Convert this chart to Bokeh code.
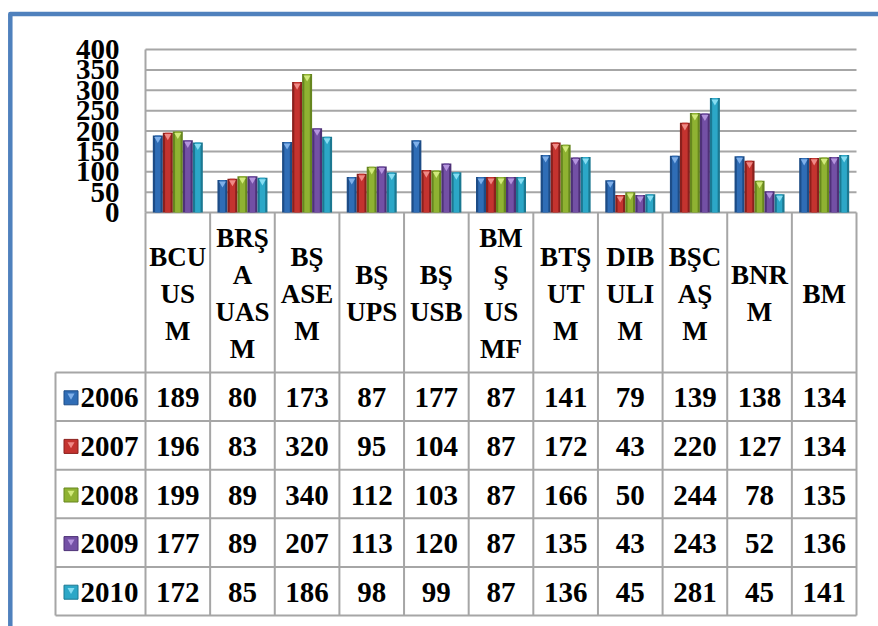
from bokeh.plotting import figure
from bokeh.models import Range1d, LinearAxis, FixedTicker, ColumnDataSource
from bokeh.core.properties import value
from bokeh.embed import file_html
from bokeh.resources import INLINE

# ---------------- data ----------------
categories = ["BCUUSM", "BRŞAUASM", "BŞASEM", "BŞUPS", "BŞUSB", "BMŞUSMF",
              "BTŞUTM", "DIBULIM", "BŞCAŞM", "BNRM", "BM"]
category_lines = [["BCU", "US", "M"], ["BRŞ", "A", "UAS", "M"], ["BŞ", "ASE", "M"],
                  ["BŞ", "UPS"], ["BŞ", "USB"], ["BM", "Ş", "US", "MF"],
                  ["BTŞ", "UT", "M"], ["DIB", "ULI", "M"], ["BŞC", "AŞ", "M"],
                  ["BNR", "M"], ["BM"]]
years = ["2006", "2007", "2008", "2009", "2010"]
v2006 = [189, 80, 173, 87, 177, 87, 141, 79, 139, 138, 134]
v2007 = [196, 83, 320, 95, 104, 87, 172, 43, 220, 127, 134]
v2008 = [199, 89, 340, 112, 103, 87, 166, 50, 244, 78, 135]
v2009 = [177, 89, 207, 113, 120, 87, 135, 43, 243, 52, 136]
v2010 = [172, 85, 186, 98, 99, 87, 136, 45, 281, 45, 141]
series = [v2006, v2007, v2008, v2009, v2010]
y_ticks = [0, 50, 100, 150, 200, 250, 300, 350, 400]
y_tick_labels = ["0", "50", "100", "150", "200", "250", "300", "350", "400"]

# ---------------- styles ----------------
main_colors = ["#2F6DB6", "#C4332F", "#8FB232", "#7350A5", "#2CA7C7"]
dark_colors = ["#1D4C86", "#8A201D", "#66861F", "#4E3177", "#1B7891"]
light_colors = ["#7FB0EA", "#F08A86", "#D2EA7C", "#B494DE", "#86DDF2"]
FONT = "Liberation Serif"
GRID = "#A6A6A6"
FRAME_BLUE = "#4F81BD"

# ---------------- layout (pixels) ----------------
W, H = 878, 626
X0, X1 = 145, 856
PY_TOP, PY_ZERO = 49, 212
HEAD_BOT = 372
ROW_H = 48.6
LEG_X0 = 55
N = len(categories)
COLW = (X1 - X0) / N
K = 400 / (PY_ZERO - PY_TOP)


def Y(py):
    return (PY_ZERO - py) * K


cx = [X0 + COLW * (i + 0.5) for i in range(N)]

p = figure(width=W, height=H, x_range=Range1d(0, W), y_range=Range1d(Y(H), Y(0)),
           toolbar_location=None, output_backend="svg", min_border=0,
           x_axis_location=None, y_axis_location=None, outline_line_color=None,
           background_fill_color="white", border_fill_color="white")
p.xgrid.visible = False
p.ygrid.visible = False

# y axis (real axis, fixed inside the canvas)
yaxis = LinearAxis(fixed_location=X0, ticker=FixedTicker(ticks=y_ticks), bounds=(0, 400),
                   axis_line_color=GRID, axis_line_width=2,
                   major_tick_line_color=None, minor_tick_line_color=None,
                   major_label_text_font=FONT, major_label_text_font_size="29px",
                   major_label_text_font_style="bold", major_label_text_color="black",
                   major_label_standoff=20,
                   major_label_overrides={t: s for t, s in zip(y_ticks, y_tick_labels)})
p.add_layout(yaxis, "left")

# gridlines
p.segment(x0=[X0] * len(y_ticks), y0=y_ticks, x1=[X1] * len(y_ticks), y1=y_ticks,
          line_color=GRID, line_width=2)

# bars
offsets = [-20, -10, 0, 10, 20]
for j, vals in enumerate(series):
    xs = [c + offsets[j] for c in cx]
    src = ColumnDataSource(dict(x=xs, top=vals, tri=[v - 3.5 * K for v in vals]))
    p.vbar(x="x", top="top", bottom=0, width=10, source=src,
           fill_color=dark_colors[j], line_color=None)
    p.vbar(x="x", top="top", bottom=0, width=5.5, source=src,
           fill_color=main_colors[j], line_color=None)
    p.scatter(x="x", y="tri", source=src, marker="inverted_triangle", size=7,
              fill_color=light_colors[j], line_color=None)

# table lines
row_y = [HEAD_BOT + ROW_H * r for r in range(len(years) + 1)]
vx = [X0 + COLW * i for i in range(N + 1)]
p.segment(x0=vx, y0=[Y(PY_ZERO)] * len(vx), x1=vx, y1=[Y(row_y[-1])] * len(vx),
          line_color=GRID, line_width=2)
p.segment(x0=[LEG_X0], y0=[Y(row_y[0])], x1=[LEG_X0], y1=[Y(row_y[-1])],
          line_color=GRID, line_width=2)
p.segment(x0=[LEG_X0] * len(row_y), y0=[Y(y) for y in row_y],
          x1=[X1] * len(row_y), y1=[Y(y) for y in row_y],
          line_color=GRID, line_width=2)

# header (category names)
HEAD_MID = (PY_ZERO + HEAD_BOT) / 2
LINE_SP = 37
hx, hy, ht = [], [], []
for i, lines in enumerate(category_lines):
    n = len(lines)
    for k, s in enumerate(lines):
        hx.append(cx[i])
        hy.append(Y(HEAD_MID + (k - (n - 1) / 2) * LINE_SP + 1))
        ht.append(s)
p.text(x=hx, y=hy, text=ht, text_font=value(FONT), text_font_style="bold",
       text_font_size="27px", text_align="center", text_baseline="middle", text_color="black")

# values
for r, vals in enumerate(series):
    ym = Y(row_y[r] + ROW_H / 2 + 1)
    p.text(x=cx, y=[ym] * N, text=[str(v) for v in vals], text_font=value(FONT),
           text_font_style="bold", text_font_size="29px", text_align="center",
           text_baseline="middle", text_color="black")

# legend column
ly = [Y(row_y[r] + ROW_H / 2 + 1) for r in range(len(years))]
p.text(x=[138] * len(years), y=ly, text=years, text_font=value(FONT),
       text_font_style="bold", text_font_size="29px", text_align="right",
       text_baseline="middle", text_color="black")
p.scatter(x=[70.5] * len(years), y=ly, marker="square", size=14,
          fill_color=main_colors, line_color=dark_colors, line_width=1)
p.scatter(x=[70.5] * len(years), y=[v + 2.2 * K for v in ly], marker="inverted_triangle",
          size=7, fill_color=light_colors, line_color=None)

# blue frame
p.line(x=[9.8, 9.8, W + 5], y=[Y(H + 5), Y(13.5), Y(13.5)], line_width=4.5,
       line_color=FRAME_BLUE, line_join="round")

open("out.html", "w").write(file_html(p, INLINE))
